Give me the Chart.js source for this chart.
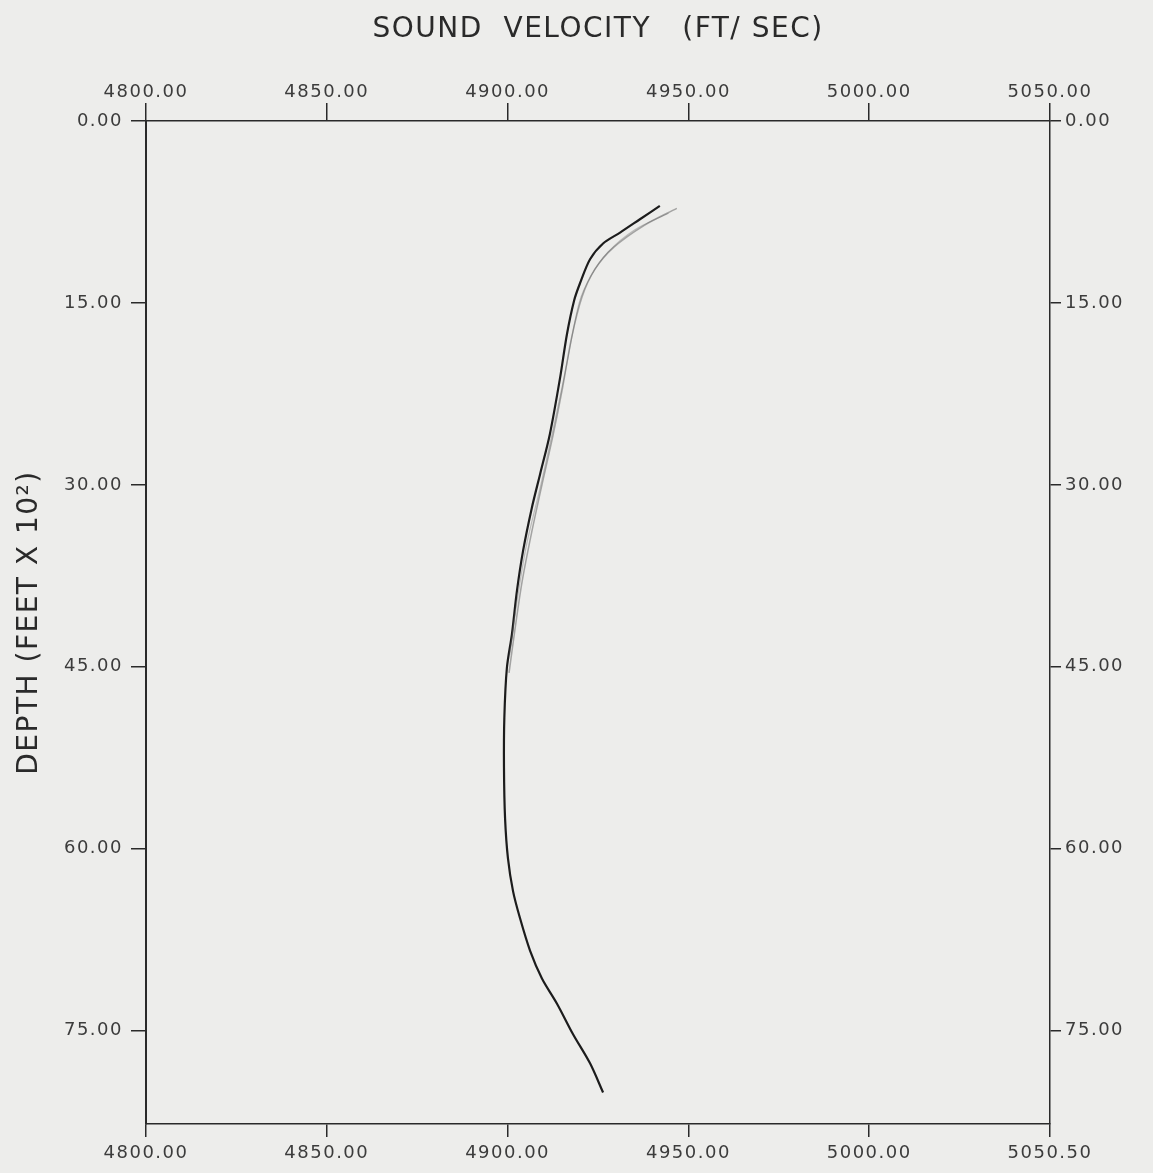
<!DOCTYPE html>
<html>
<head>
<meta charset="utf-8">
<title>Sound velocity profile</title>
<script src="https://cdn.jsdelivr.net/npm/chart.js@4.4.1/dist/chart.umd.min.js"></script>
<style>
  html, body { margin: 0; padding: 0; background: #ededeb; }
  #wrap { width: 1153px; height: 1173px; }
</style>
</head>
<body>
<div id="wrap"><canvas id="svpChart" width="1153" height="1173"></canvas></div>
<script>
// axis ticks
const depthTicks = [0, 15, 30, 45, 60, 75];
const velTicks = [4800, 4850, 4900, 4950, 5000, 5050];
const topVelLabels = ['4800.00', '4850.00', '4900.00', '4950.00', '5000.00', '5050.00'];
const bottomVelLabels = ['4800.00', '4850.00', '4900.00', '4950.00', '5000.00', '5050.50'];

// main (dark) trace - depth in feet x 100, velocity in ft/sec
const mainDepth = [7.0, 8.1, 9.2, 10.1, 11.4, 13.4, 14.8, 17.6, 21.2, 25.8, 29.1, 31.9, 35.4, 38.7, 42.3, 45.1, 49.2, 53.3, 57.5, 60.8, 63.5, 65.7, 68.4, 70.7, 72.8, 75.3, 77.7, 80.1];
const mainVel = [4942.1, 4936.6, 4931.1, 4926.4, 4922.8, 4920.0, 4918.4, 4916.4, 4914.5, 4911.7, 4909.0, 4906.7, 4904.3, 4902.6, 4901.2, 4899.8, 4899.1, 4899.0, 4899.3, 4900.1, 4901.5, 4903.4, 4906.2, 4909.5, 4913.7, 4918.1, 4922.8, 4926.4];

// faint overlapping traces near the top
const grayDepth = [7.2, 8.6, 10.4, 12.2, 14.5, 18.0, 22.0, 26.0, 30.0, 34.0, 38.0, 42.0, 45.5];
const grayVel = [4946.8, 4937.8, 4929.4, 4924.2, 4920.6, 4917.6, 4915.2, 4912.5, 4909.5, 4906.6, 4904.0, 4902.0, 4900.4];
const gray2Depth = [7.6, 9.0, 10.8, 12.8, 15.0, 20.0, 25.0, 30.0, 35.0, 40.0, 44.0];
const gray2Vel = [4944.5, 4935.0, 4927.8, 4923.0, 4919.8, 4916.4, 4912.9, 4909.2, 4905.2, 4902.4, 4900.6];

function toPoints(vel, dep) {
    return vel.map((v, i) => ({ x: v, y: dep[i] }));
}

const inkColor = '#2a2a2a';
const labelColor = '#3c3c3c';
const labelFont = { family: 'DejaVu Sans', size: 18 };
const titleFont = { family: 'DejaVu Sans', size: 28 };

// the lettering of the original is widely spaced
const spacingPlugin = {
    id: 'spacing',
    beforeUpdate: function(chart) { chart.ctx.letterSpacing = '1.5px'; },
    beforeDraw: function(chart) { chart.ctx.letterSpacing = '1.5px'; }
};

const ctx = document.getElementById('svpChart').getContext('2d');
const svpChart = new Chart(ctx, {
    type: 'scatter',
    data: {
        datasets: [{
            data: toPoints(grayVel, grayDepth),
            showLine: true,
            borderColor: 'rgba(90, 90, 90, 0.5)',
            borderWidth: 1.5,
            pointRadius: 0,
            tension: 0.3
        }, {
            data: toPoints(gray2Vel, gray2Depth),
            showLine: true,
            borderColor: 'rgba(110, 110, 110, 0.4)',
            borderWidth: 1.2,
            pointRadius: 0,
            tension: 0.3
        }, {
            data: toPoints(mainVel, mainDepth),
            showLine: true,
            borderColor: '#1c1c1c',
            borderWidth: 2.2,
            pointRadius: 0,
            tension: 0.3
        }]
    },
    plugins: [spacingPlugin],
    options: {
        responsive: false,
        animation: false,
        layout: { padding: 0 },
        plugins: {
            legend: { display: false },
            tooltip: { enabled: false }
        },
        scales: {
            x: {
                type: 'linear',
                position: 'bottom',
                min: 4800,
                max: 5050,
                afterBuildTicks: function(scale) {
                    scale.ticks = velTicks.map(v => ({ value: v }));
                },
                afterFit: function(scale) {
                    scale.height = 49;
                },
                ticks: {
                    color: labelColor,
                    font: labelFont,
                    padding: 6,
                    maxRotation: 0,
                    callback: function(value, index) {
                        return bottomVelLabels[index];
                    }
                },
                grid: { drawOnChartArea: false, tickLength: 13, color: inkColor, lineWidth: 1.5 },
                border: { display: true, color: inkColor, width: 1.5 }
            },
            x2: {
                type: 'linear',
                position: 'top',
                min: 4800,
                max: 5050,
                afterBuildTicks: function(scale) {
                    scale.ticks = velTicks.map(v => ({ value: v }));
                },
                afterFit: function(scale) {
                    scale.height = 121;
                },
                title: {
                    display: true,
                    text: 'SOUND  VELOCITY   (FT/ SEC)',
                    color: inkColor,
                    font: titleFont,
                    padding: { top: 13, bottom: 0 }
                },
                ticks: {
                    color: labelColor,
                    font: labelFont,
                    padding: 0,
                    maxRotation: 0,
                    callback: function(value, index) {
                        return topVelLabels[index];
                    }
                },
                grid: { drawOnChartArea: false, tickLength: 18, color: inkColor, lineWidth: 1.5 },
                border: { display: true, color: inkColor, width: 1.5 }
            },
            y: {
                type: 'linear',
                position: 'left',
                reverse: true,
                min: 0,
                max: 82.7,
                afterBuildTicks: function(scale) {
                    scale.ticks = depthTicks.map(v => ({ value: v }));
                },
                afterFit: function(scale) {
                    scale.width = 146;
                },
                title: {
                    display: true,
                    text: 'DEPTH (FEET X 10²)',
                    color: inkColor,
                    font: titleFont,
                    padding: { top: 13, bottom: 0 }
                },
                ticks: {
                    color: labelColor,
                    font: labelFont,
                    padding: 8,
                    callback: function(value) {
                        return value.toFixed(2);
                    }
                },
                grid: { drawOnChartArea: false, tickLength: 15, color: inkColor, lineWidth: 1.5 },
                border: { display: true, color: inkColor, width: 2 }
            },
            y2: {
                type: 'linear',
                position: 'right',
                reverse: true,
                min: 0,
                max: 82.7,
                afterBuildTicks: function(scale) {
                    scale.ticks = depthTicks.map(v => ({ value: v }));
                },
                afterFit: function(scale) {
                    scale.width = 103;
                },
                ticks: {
                    color: labelColor,
                    font: labelFont,
                    padding: 4,
                    callback: function(value) {
                        return value.toFixed(2);
                    }
                },
                grid: { drawOnChartArea: false, tickLength: 11, color: inkColor, lineWidth: 1.5 },
                border: { display: true, color: inkColor, width: 1.5 }
            }
        }
    }
});
</script>
</body>
</html>
